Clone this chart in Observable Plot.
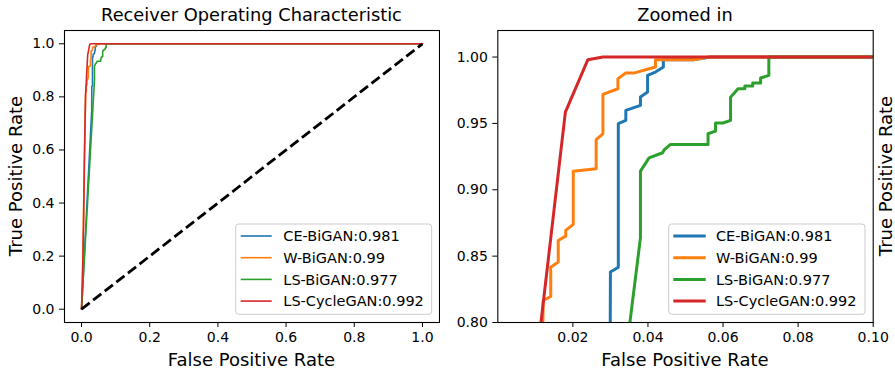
<!DOCTYPE html>
<html>
<head>
<meta charset="utf-8">
<script src="https://cdn.jsdelivr.net/npm/d3@7"></script>
<script src="https://cdn.jsdelivr.net/npm/@observablehq/plot@0.6"></script>
<style>
  html, body { margin: 0; padding: 0; background: #fff; }
  #chart { position: relative; width: 895px; height: 372px; overflow: hidden; font-family: "DejaVu Sans", sans-serif; }
  #chart svg { position: absolute; top: 0; }
</style>
</head>
<body>
<div id="chart"></div>
<script>
// ---- data ----
const seriesNames = ["CE-BiGAN:0.981", "W-BiGAN:0.99", "LS-BiGAN:0.977", "LS-CycleGAN:0.992"];
const seriesColors = ["#1f77b4", "#ff7f0e", "#2ca02c", "#d62728"];

const ceFpr = [0, 0.0299, 0.0300, 0.0321, 0.0321, 0.0341, 0.0341, 0.0380, 0.0380, 0.0399, 0.0399, 0.0420, 0.0441, 0.0441, 0.0522, 0.0567, 1.0];
const ceTpr = [0, 0.750, 0.838, 0.8417, 0.9498, 0.9522, 0.9598, 0.9636, 0.9699, 0.9736, 0.9862, 0.9887, 0.9925, 0.998, 0.998, 1.0, 1.0];

const wFpr = [0, 0.004, 0.008, 0.0120, 0.0121, 0.0141, 0.0141, 0.0161, 0.0161, 0.0181, 0.0181, 0.0201, 0.0201, 0.0262, 0.0262, 0.0280, 0.0280, 0.0320, 0.0320, 0.0340, 0.0362, 0.0420, 0.0420, 0.0522, 0.056, 1.0];
const wTpr = [0, 0.20, 0.55, 0.80, 0.8166, 0.8196, 0.8417, 0.8455, 0.8618, 0.8651, 0.8694, 0.8739, 0.9140, 0.9159, 0.9377, 0.9422, 0.9719, 0.9761, 0.9837, 0.9879, 0.9879, 0.9925, 0.998, 0.998, 1.0, 1.0];

const lsFpr = [0, 0.0380, 0.0380, 0.0403, 0.0439, 0.0443, 0.0460, 0.0560, 0.0560, 0.0580, 0.0580, 0.0600, 0.0620, 0.0620, 0.0640, 0.0658, 0.0658, 0.0679, 0.0679, 0.0700, 0.0700, 0.0722, 0.0722, 1.0];
const lsTpr = [0, 0.8639, 0.9140, 0.9240, 0.9279, 0.9300, 0.9342, 0.9342, 0.9422, 0.9442, 0.9503, 0.9503, 0.9523, 0.9698, 0.9761, 0.9761, 0.9781, 0.9781, 0.9804, 0.9804, 0.9842, 0.9862, 1.0, 1.0];

const cycFpr = [0, 0.003, 0.006, 0.009, 0.0115, 0.0180, 0.0240, 0.0280, 1.0];
const cycTpr = [0, 0.12, 0.33, 0.60, 0.80, 0.9585, 0.998, 1.0, 1.0];

const chanceFpr = [0, 1];
const chanceTpr = [0, 1];

const leftTitle = "Receiver Operating Characteristic";
const rightTitle = "Zoomed in";
const xLabel = "False Positive Rate";
const yLabel = "True Positive Rate";

const leftXTicks = [0, 0.2, 0.4, 0.6, 0.8, 1.0];
const leftYTicks = [0, 0.2, 0.4, 0.6, 0.8, 1.0];
const rightXTicks = [0.02, 0.04, 0.06, 0.08, 0.10];
const rightYTicks = [0.80, 0.85, 0.90, 0.95, 1.00];

// ---- build tables ----
const fprs = [ceFpr, wFpr, lsFpr, cycFpr];
const tprs = [ceTpr, wTpr, lsTpr, cycTpr];
const rows = [];
seriesNames.forEach((name, i) => {
  fprs[i].forEach((f, j) => rows.push({series: name, fpr: f, tpr: tprs[i][j]}));
});
const chance = chanceFpr.map((f, j) => ({fpr: f, tpr: chanceTpr[j]}));

const FONT = "DejaVu Sans";
const chart = document.getElementById("chart");

function addLegend(svg, box, lineW) {
  const g = d3.select(svg).append("g").attr("text-anchor", "start");
  g.append("rect")
    .attr("x", box.x).attr("y", box.y).attr("width", box.w).attr("height", box.h)
    .attr("rx", 3).attr("fill", "white").attr("fill-opacity", 0.8)
    .attr("stroke", "#cccccc").attr("stroke-width", 1);
  seriesNames.forEach((name, i) => {
    const cy = box.y + 12 + i * 21.7;
    g.append("line")
      .attr("x1", box.hx1).attr("x2", box.hx2).attr("y1", cy).attr("y2", cy)
      .attr("stroke", seriesColors[i]).attr("stroke-width", lineW);
    g.append("text")
      .attr("x", box.tx).attr("y", cy).attr("dy", "0.36em")
      .attr("text-anchor", "start")
      .attr("font-size", 14.5).attr("font-family", FONT).attr("fill", "black")
      .text(name);
  });
}

function addText(svg, txt, x, y, size, rotate) {
  const t = d3.select(svg).append("text")
    .attr("text-anchor", "middle").attr("font-size", size).attr("font-family", FONT)
    .attr("fill", "black").text(txt);
  if (rotate) t.attr("transform", `translate(${x},${y}) rotate(-90)`);
  else t.attr("x", x).attr("y", y);
}

// ---- left panel ----
const left = Plot.plot({
  width: 440, height: 372,
  marginLeft: 64, marginRight: 1, marginTop: 30, marginBottom: 50,
  x: {domain: [-0.05, 1.05]},
  y: {domain: [-0.05, 1.05]},
  color: {domain: seriesNames, range: seriesColors},
  style: {fontFamily: FONT, fontSize: "14px", background: "white", color: "black", overflow: "visible"},
  marks: [
    Plot.line(rows, {x: "fpr", y: "tpr", z: "series", stroke: "series", strokeWidth: 1.6}),
    Plot.line(chance, {x: "fpr", y: "tpr", stroke: "black", strokeWidth: 2.8, strokeDasharray: "10.3,4.4", strokeLinecap: "butt"}),
    Plot.frame({stroke: "black", strokeWidth: 1.1}),
    Plot.axisX({ticks: leftXTicks, tickFormat: d3.format(".1f"), tickSize: 5, tickPadding: 5, label: null}),
    Plot.axisY({ticks: leftYTicks, tickFormat: d3.format(".1f"), tickSize: 5, tickPadding: 5, label: null})
  ]
});
left.style.left = "0px";
chart.appendChild(left);
addText(left, leftTitle, 251.5, 21, 17.8, false);
addText(left, xLabel, 251.5, 366, 18, false);
addText(left, yLabel, 21.5, 176, 18, true);
addLegend(left, {x: 235.7, y: 224, w: 196, h: 90.3, hx1: 240.7, hx2: 271.7, tx: 283.3}, 1.6);

// ---- right panel ----
const right = Plot.plot({
  width: 455, height: 372,
  marginLeft: 57.3, marginRight: 22.3, marginTop: 30, marginBottom: 50,
  x: {domain: [0, 0.1]},
  y: {domain: [0.8, 1.02]},
  color: {domain: seriesNames, range: seriesColors},
  style: {fontFamily: FONT, fontSize: "14px", background: "white", color: "black", overflow: "visible"},
  marks: [
    Plot.line(rows, {x: "fpr", y: "tpr", z: "series", stroke: "series", strokeWidth: 3, clip: true}),
    Plot.frame({stroke: "black", strokeWidth: 1.1}),
    Plot.axisX({ticks: rightXTicks, tickFormat: d3.format(".2f"), tickSize: 5, tickPadding: 5, label: null}),
    Plot.axisY({ticks: rightYTicks, tickFormat: d3.format(".2f"), tickSize: 5, tickPadding: 5, label: null})
  ]
});
right.style.left = "440px";
chart.appendChild(right);
addText(right, rightTitle, 245, 21, 17.8, false);
addText(right, xLabel, 245, 366, 18, false);
addText(right, yLabel, 451.5, 176, 18, true);
addLegend(right, {x: 228.7, y: 224, w: 196.3, h: 90.3, hx1: 233.3, hx2: 265.7, tx: 276}, 3);
</script>
</body>
</html>
